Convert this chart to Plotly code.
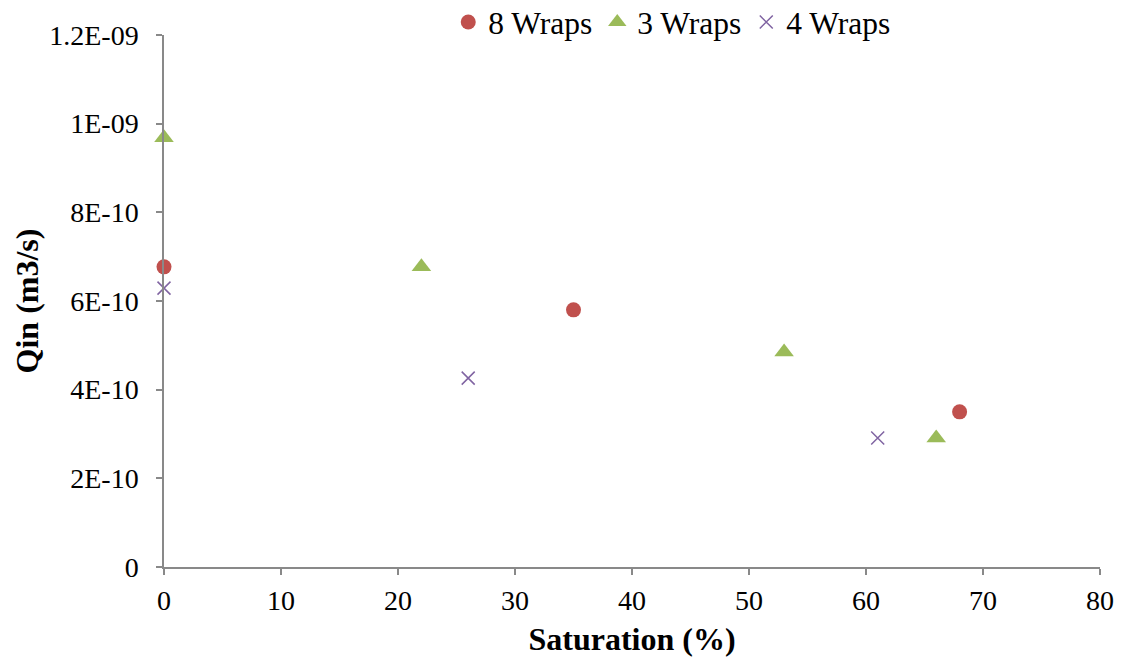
import plotly.graph_objects as go

x_8w = [0, 35, 68]
y_8w = [6.77e-10, 5.8e-10, 3.5e-10]
x_3w = [0, 22, 53, 66]
y_3w = [9.68e-10, 6.77e-10, 4.85e-10, 2.91e-10]
x_4w = [0, 26, 61]
y_4w = [6.29e-10, 4.26e-10, 2.91e-10]

y_tickvals = [0, 2e-10, 4e-10, 6e-10, 8e-10, 1e-9, 1.2e-9]
y_ticktext = ["0", "2E-10", "4E-10", "6E-10", "8E-10", "1E-09", "1.2E-09"]
x_tickvals = [0, 10, 20, 30, 40, 50, 60, 70, 80]

font = "Liberation Serif, Times New Roman, serif"
axis_col = "#898989"

fig = go.Figure()
fig.add_trace(go.Scatter(x=x_8w, y=y_8w, mode="markers", name="8 Wraps", cliponaxis=False,
                         marker=dict(symbol="circle", size=15, color="#C0504D")))
fig.add_trace(go.Scatter(x=x_3w, y=y_3w, mode="markers", name="3 Wraps", cliponaxis=False,
                         marker=dict(symbol="triangle-up", size=17, color="#9BBB59")))
fig.add_trace(go.Scatter(x=x_4w, y=y_4w, mode="markers", name="4 Wraps", cliponaxis=False,
                         marker=dict(symbol="x-thin", size=13, color="#8064A2",
                                     line=dict(width=1.5, color="#8064A2"))))

fig.update_layout(
    width=1123, height=660,
    margin=dict(l=164, r=23, t=35, b=93, autoexpand=False),
    plot_bgcolor="white", paper_bgcolor="white",
    font=dict(family=font, size=28, color="black"),
    showlegend=True,
    legend=dict(orientation="h", x=0.543, xanchor="center", y=1.0244, yanchor="middle",
                font=dict(size=31.5), itemwidth=30, tracegroupgap=0,
                bgcolor="rgba(0,0,0,0)"),
    xaxis=dict(range=[0, 80], tickvals=x_tickvals, showgrid=False, zeroline=False,
               showline=True, linecolor=axis_col, linewidth=1.5,
               ticks="outside", ticklen=6, tickcolor=axis_col, tickwidth=1.5,
               tickfont=dict(size=28), ticklabelstandoff=2, automargin=False,
               title=dict(text="<b>Saturation (%)</b>", font=dict(size=32), standoff=12)),
    yaxis=dict(range=[0, 1.2e-9], tickvals=y_tickvals, ticktext=y_ticktext,
               showgrid=False, zeroline=False,
               showline=True, linecolor=axis_col, linewidth=1.5,
               ticks="outside", ticklen=6, tickcolor=axis_col, tickwidth=1.5,
               tickfont=dict(size=28), ticklabelstandoff=12, automargin=False,
               title=dict(text="<b>Qin (m3/s)</b>", font=dict(size=32), standoff=1)),
)

fig.write_html("out.html")
